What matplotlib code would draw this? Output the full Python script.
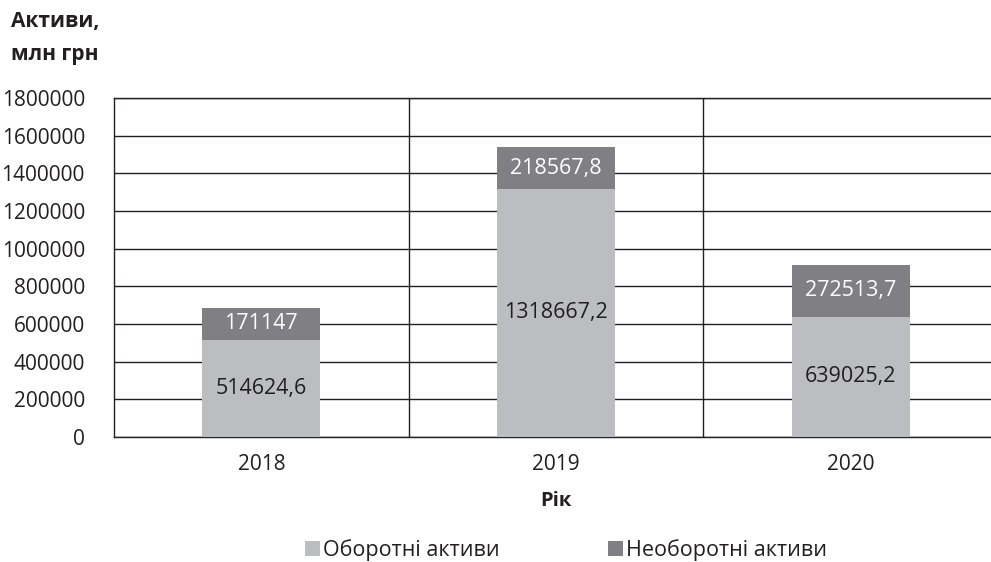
import matplotlib
matplotlib.use('Agg')
import matplotlib.pyplot as plt
import numpy as np

years = ['2018', '2019', '2020']
current_assets = [514624.6, 1318667.2, 639025.2]
noncurrent_assets = [171147, 218567.8, 272513.7]
series_names = ['Оборотні активи', 'Необоротні активи']

plt.rcParams['font.family'] = ['Open Sans', 'DejaVu Sans']

def fmt(v):
    s = ('%.1f' % v).rstrip('0').rstrip('.')
    return s.replace('.', ',')

fig = plt.figure(figsize=(9.91, 5.62), dpi=100)
ax = fig.add_axes([114/991, 1 - 437/562, 884/991, 339/562])

x = np.arange(len(years))
light = '#bcbdc1'
dark = '#808084'
b1 = ax.bar(x, current_assets, 0.4, color=light, zorder=3, label=series_names[0])
b2 = ax.bar(x, noncurrent_assets, 0.4, bottom=current_assets, color=dark, zorder=3,
            label=series_names[1])

for i in range(len(years)):
    ax.text(x[i], current_assets[i] / 2, fmt(current_assets[i]), ha='center', va='center',
            fontsize=15.5, color='#231f20', zorder=4)
    ax.text(x[i], current_assets[i] + noncurrent_assets[i] / 2, fmt(noncurrent_assets[i]),
            ha='center', va='center', fontsize=15.5, color='white', zorder=4)

ax.set_xlim(-0.5, 2.5)
ax.set_ylim(0, 1800000)
ax.set_yticks(np.arange(0, 1800001, 200000))
ax.set_yticklabels([str(v) for v in range(0, 1800001, 200000)])
ax.set_xticks(x)
ax.set_xticklabels(years)
ax.set_xticks([0.5, 1.5], minor=True)
ax.tick_params(axis='both', which='both', length=0, labelsize=15, colors='#231f20')
ax.tick_params(axis='y', pad=21)
ax.tick_params(axis='x', pad=12)
ax.grid(axis='y', which='major', color='#231f20', linewidth=1, zorder=1)
ax.grid(axis='x', which='minor', color='#231f20', linewidth=1, zorder=1)
for s in ax.spines.values():
    s.set_color('#231f20')
    s.set_linewidth(1)

ax.set_xlabel('Рік', fontsize=14.5, fontweight='bold', color='#231f20', labelpad=12)
fig.text(11/991, 1 - 38/562, 'Активи,\nмлн грн', fontsize=15, fontweight='bold',
         color='#231f20', ha='left', va='center', linespacing=1.75)

fig.legend(handles=[b1, b2], loc='center', bbox_to_anchor=(566/991, 1 - 550/562), ncol=2,
           frameon=False, fontsize=15.5, handlelength=0.7, handleheight=0.7,
           handletextpad=0.15, columnspacing=5.0, labelcolor='#231f20')

plt.savefig('out.png', dpi=100)
